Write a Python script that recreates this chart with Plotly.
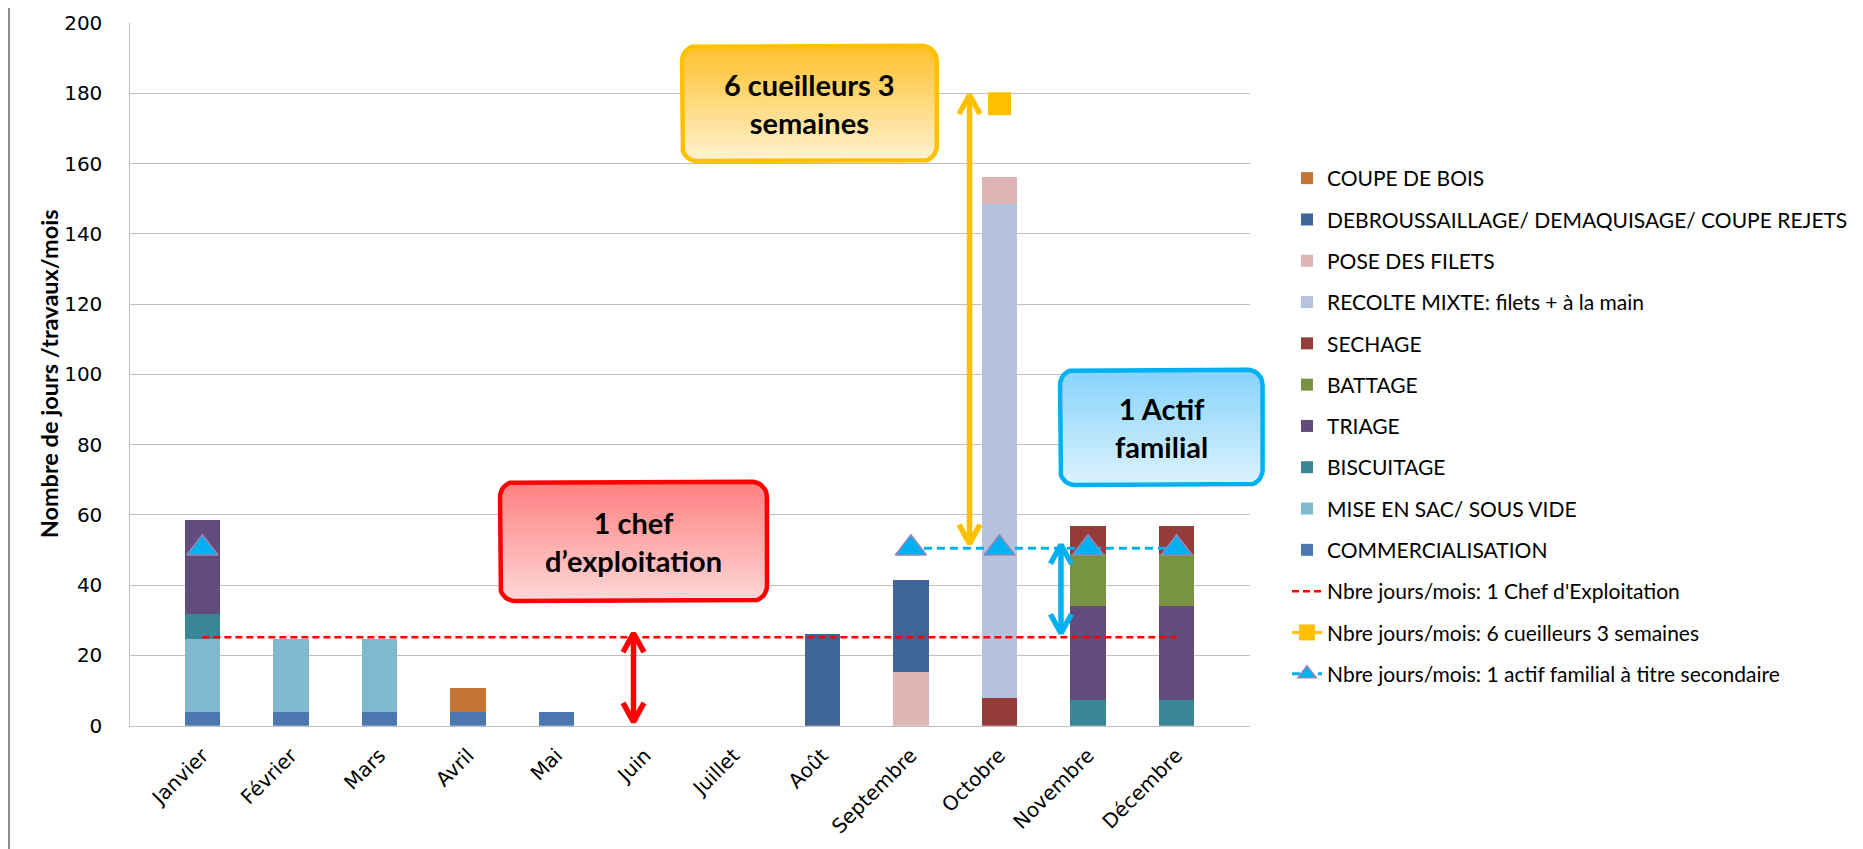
import numpy as np
import plotly.graph_objects as go

# The page adds an 8px body margin, so the figure is drawn 8px in from the
# window corner; all positions below are in figure pixels (= window px - 8).
W, H = 1855, 841

# ---------------- data ----------------
months = ["Janvier", "Février", "Mars", "Avril", "Mai", "Juin", "Juillet",
          "Août", "Septembre", "Octobre", "Novembre", "Décembre"]
N = None
commercialisation = [4, 4, 4, 4, 4, N, N, N, N, N, N, N]
mise_en_sac = [20.7, 20.7, 20.7, N, N, N, N, N, N, N, N, N]
biscuitage = [7.1, N, N, N, N, N, N, N, N, N, 7.2, 7.2]
triage = [26.7, N, N, N, N, N, N, N, N, N, 26.9, 26.9]
battage = [N, N, N, N, N, N, N, N, N, N, 14.7, 14.7]
sechage = [N, N, N, N, N, N, N, N, N, 8, 7.9, 7.9]
recolte = [N, N, N, N, N, N, N, N, N, 140.6, N, N]
pose_filets = [N, N, N, N, N, N, N, N, 15.3, 7.7, N, N]
debroussaillage = [N, N, N, N, N, N, N, 26.1, 26.1, N, N, N]
coupe_bois = [N, N, N, 6.6, N, N, N, N, N, N, N, N]

chef_exploitation = [25.2] * 12
cueilleurs = [N, N, N, N, N, N, N, N, N, 177, N, N]
actif_familial = [50.5, N, N, N, N, N, N, N, 50.5, 50.5, 50.5, 50.5]

y_ticks = [0, 20, 40, 60, 80, 100, 120, 140, 160, 180, 200]

bar_series = [
    ("COMMERCIALISATION", commercialisation, "#4A77AF", 10),
    ("MISE EN SAC/ SOUS VIDE", mise_en_sac, "#7FB9CF", 9),
    ("BISCUITAGE", biscuitage, "#398698", 8),
    ("TRIAGE", triage, "#614C7D", 7),
    ("BATTAGE", battage, "#789341", 6),
    ("SECHAGE", sechage, "#953B3A", 5),
    ("RECOLTE MIXTE: filets + à la main", recolte, "#B5C3DE", 4),
    ("POSE DES FILETS", pose_filets, "#DDB5B5", 3),
    ("DEBROUSSAILLAGE/ DEMAQUISAGE/ COUPE REJETS", debroussaillage, "#3E6595", 2),
    ("COUPE DE BOIS", coupe_bois, "#C27537", 1),
]

# ---------------- geometry of plot area (figure px) ----------------
L, R = 121.5, 1241.5
T, B = 15.0, 717.7
STEP = (R - L) / len(months)
UNIT = (B - T) / 200.0

def px(i):
    return L + (i + 0.5) * STEP

def py(v):
    return (H - B) + v * UNIT

LEG_FONT = "Lato, Carlito, Calibri, sans-serif"
TICK_FONT = "Verdana, DejaVu Sans, sans-serif"

fig = go.Figure()

for name, vals, col, rank in bar_series:
    fig.add_trace(go.Bar(
        x=months, y=vals, name=name, marker=dict(color=col, line=dict(width=0)),
        legendrank=rank, legendgroup=name, hoverinfo="skip"))

fig.add_trace(go.Scatter(
    x=months, y=chef_exploitation, mode="lines",
    name="Nbre jours/mois: 1 Chef d'Exploitation",
    line=dict(color="#FF0000", width=2.5, dash="7px,4px"),
    legendrank=11, legendgroup="chef", hoverinfo="skip"))

fig.add_trace(go.Scatter(
    x=months, y=cueilleurs, mode="lines+markers",
    name="Nbre jours/mois: 6 cueilleurs 3 semaines",
    line=dict(color="#FFC000", width=3),
    marker=dict(symbol="square", size=23, color="#FFC000"),
    legendrank=12, legendgroup="cueil", hoverinfo="skip"))

fig.add_trace(go.Scatter(
    x=months, y=actif_familial, mode="lines+markers", connectgaps=False,
    name="Nbre jours/mois: 1 actif familial à titre secondaire",
    line=dict(color="#00B0F0", width=3, dash="8px,5px"),
    marker=dict(symbol="triangle-up", size=27, color="#00B0F0",
                line=dict(color="#9A86B6", width=1.5)),
    legendrank=13, legendgroup="actif", hoverinfo="skip"))

# ---------------- decorative boxes (overlay full-figure axes) ----------------
def rounded_rect(x0, x1, y0, y1, r=15, n=10):
    xs, ys = [], []
    corners = [(x1 - r, y1 - r, 0, 90), (x0 + r, y1 - r, 90, 180),
               (x0 + r, y0 + r, 180, 270), (x1 - r, y0 + r, 270, 360)]
    for cx, cy, a0, a1 in corners:
        for a in np.linspace(np.radians(a0), np.radians(a1), n):
            xs.append(cx + r * np.cos(a))
            ys.append(cy + r * np.sin(a))
    xs.append(xs[0]); ys.append(ys[0])
    return xs, ys

boxes = [
    # (x idx0, x idx1, val0, val1, text, top color, bottom color, border)
    (5.42, 8.15, 160.7, 193.5, "<b>6 cueilleurs 3<br>semaines</b>", "#FFC02A", "#FFF3D2", "#FFC000"),
    (3.47, 6.33, 35.5, 69.4, "<b>1 chef<br>d’exploitation</b>", "#FF7F7F", "#FFD8D8", "#FF0000"),
    (9.47, 11.64, 68.5, 101.3, "<b>1 Actif<br>familial</b>", "#85D3FC", "#DDF2FE", "#00B0F0"),
]
annotations = []
for i0, i1, v0, v1, txt, ctop, cbot, cb in boxes:
    x0, x1, y0, y1 = px(i0), px(i1), py(v0), py(v1)
    xs, ys = rounded_rect(x0, x1, y0, y1)
    fig.add_trace(go.Scatter(
        x=xs, y=ys, mode="lines", fill="toself",
        fillgradient=dict(type="vertical", colorscale=[[0, cbot], [1, ctop]]),
        line=dict(color=cb, width=4.5), xaxis="x2", yaxis="y2",
        showlegend=False, hoverinfo="skip"))
    annotations.append(dict(
        x=(x0 + x1) / 2, y=(y0 + y1) / 2, xref="x2", yref="y2", text=txt,
        xanchor="center", yanchor="middle",
        showarrow=False, font=dict(family=LEG_FONT, size=29, color="#000000")))

arrows = [
    # (x idx, val low, val high, colour)
    (4.9, 1.1, 26.3, "#FF0000"),
    (8.5, 51.8, 179.5, "#FFC000"),
    (9.48, 26.3, 51.5, "#00B0F0"),
]
for ix, vlo, vhi, col in arrows:
    x = px(ix); ylo = py(vlo); yhi = py(vhi)
    dx, dy = 10.5, 19
    xs = [x, x, None, x - dx, x, x + dx, None, x - dx, x, x + dx]
    ys = [ylo + 1, yhi - 1, None, yhi - dy, yhi, yhi - dy, None, ylo + dy, ylo, ylo + dy]
    fig.add_trace(go.Scatter(
        x=xs, y=ys, mode="lines", line=dict(color=col, width=5.5),
        xaxis="x2", yaxis="y2", showlegend=False, hoverinfo="skip"))

# y-axis title
annotations.append(dict(
    x=41 / W, y=1 - ((T + B) / 2) / H, xref="paper", yref="paper",
    xanchor="center", yanchor="middle",
    text="<b>Nombre de jours /travaux/mois</b>", textangle=-90, showarrow=False,
    font=dict(family=LEG_FONT, size=23.5, color="#000000")))

fig.update_layout(
    width=W, height=H,
    margin=dict(l=0, r=0, t=0, b=0, autoexpand=False),
    paper_bgcolor="white", plot_bgcolor="rgba(0,0,0,0)",
    barmode="stack", bargap=0.6,
    hovermode=False,
    showlegend=True,
    legend=dict(
        x=1279 / W, xanchor="left", y=1 - 150 / H, yanchor="top",
        font=dict(family=LEG_FONT, size=21, color="#000000"),
        tracegroupgap=11, bgcolor="rgba(0,0,0,0)", borderwidth=0,
        traceorder="grouped"),
    xaxis=dict(
        domain=[L / W, R / W], anchor="y", type="category", automargin=False,
        tickangle=-45, tickfont=dict(family=TICK_FONT, size=20, color="#000000"),
        showline=True, linecolor="#BFBFBF", linewidth=1.3, showgrid=False,
        ticks="", ticklabelstandoff=9),
    yaxis=dict(
        domain=[1 - B / H, 1 - T / H], anchor="x", range=[0, 200], automargin=False,
        tickvals=y_ticks, tickfont=dict(family=TICK_FONT, size=20, color="#000000"),
        showgrid=True, gridcolor="#BFBFBF", gridwidth=1.3,
        showline=True, linecolor="#BFBFBF", linewidth=1.3, zeroline=False,
        ticks="", ticklabelstandoff=22),
    xaxis2=dict(domain=[0, 1], anchor="y2", range=[0, W], visible=False,
                fixedrange=True, automargin=False),
    yaxis2=dict(domain=[0, 1], anchor="x2", range=[0, H], visible=False,
                fixedrange=True, automargin=False),
    annotations=annotations,
    shapes=[dict(type="line", xref="paper", yref="paper", x0=1 / W, x1=1 / W,
                 y0=0, y1=1, line=dict(color="#8C8C8C", width=2))],
)

fig.write_html("out.html")
